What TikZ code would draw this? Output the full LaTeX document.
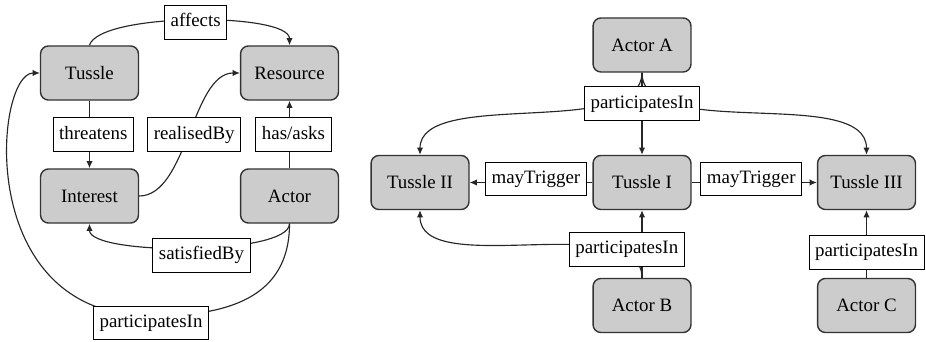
\documentclass[tikz,border=0pt]{standalone}
\usepackage{fontspec}
\setmainfont{Liberation Serif}
\newfontfamily\diagfont{Liberation Serif}
\usetikzlibrary{arrows.meta}
\begin{document}
\begin{tikzpicture}[x=0.529pt,y=-0.529pt,
  box/.style={draw=black!80, line width=0.75pt, fill=black!20, rounded corners=4.2pt,
    minimum width=51.8pt, minimum height=28.6pt, inner sep=0pt, font=\diagfont\fontsize{10}{12}\selectfont},
  lbl/.style={draw=black, line width=0.45pt, fill=white, inner xsep=3.2pt, inner ysep=0pt,
    minimum height=17.8pt, text height=7pt, text depth=2.2pt, font=\diagfont\fontsize{10}{12}\selectfont},
  edge/.style={line width=0.6pt, draw=black!85, -{Latex[length=3.8pt,width=3.4pt]}}
]
\useasboundingbox (0,0) rectangle (926,342);

% left diagram
\node[box] (tussle) at (89.5,73) {Tussle};
\node[box] (resource) at (289.5,73) {Resource};
\node[box] (interest) at (89.5,196) {Interest};
\node[box] (actor) at (289.5,196) {Actor};

\draw[edge] (tussle.north) .. controls +(10,-33) and +(0,-33) .. (resource.north)
  node[lbl,pos=.5,xshift=1.3pt,yshift=-0.9pt]{affects};
\draw[edge] (tussle) -- (interest) node[lbl,pos=.5,xshift=2pt]{threatens};
\draw[edge] (interest.east) .. controls +(48,0) and +(-48,0) .. (resource.west)
  node[lbl,pos=.5,xshift=2.5pt]{realisedBy};
\draw[edge] (actor) -- (resource) node[lbl,pos=.5,xshift=2.1pt]{has/asks};
\draw[edge] (actor.south) .. controls +(0,32) and +(0,32) .. (interest.south)
  node[lbl,pos=.46,yshift=-4.1pt]{satisfiedBy};
\coordinate (pL) at (151,316);
\draw[edge] (actor.south) .. controls +(0,75) and +(75,0) .. (pL)
  node[lbl,yshift=-3.7pt]{participatesIn}
  .. controls +(-178.6,0) and +(-45,0) .. (tussle.west);

% right diagram
\node[box] (actorA) at (642,45) {Actor A};
\node[box] (t1) at (642,182.5) {Tussle I};
\node[box] (t2) at (420,182.5) {Tussle II};
\node[box] (t3) at (866.5,182.5) {Tussle III};
\node[box] (actorB) at (642,305.5) {Actor B};
\node[box] (actorC) at (866.5,305.5) {Actor C};

\draw[edge] (actorA.south) .. controls +(0,67) and +(0,-67) .. (t2.north);
\draw[edge] (actorA.south) .. controls +(0,70) and +(0,-70) .. (t3.north);
\draw[edge] (actorA) -- (t1) node[lbl,pos=.375]{participatesIn};
\draw[edge] (t1) -- (t2) node[lbl,pos=.46,yshift=1.8pt]{mayTrigger};
\draw[edge] (t1) -- (t3) node[lbl,pos=.476,yshift=1.8pt]{mayTrigger};
\draw[edge] (actorB) -- (t1);
\draw[edge] (actorB.north) .. controls +(0,-70) and +(0,70) .. (t2.south)
  node[lbl,pos=.16,yshift=2.4pt]{participatesIn};
\draw[edge] (actorC) -- (t3) node[lbl,pos=.377]{participatesIn};
\end{tikzpicture}
\end{document}
